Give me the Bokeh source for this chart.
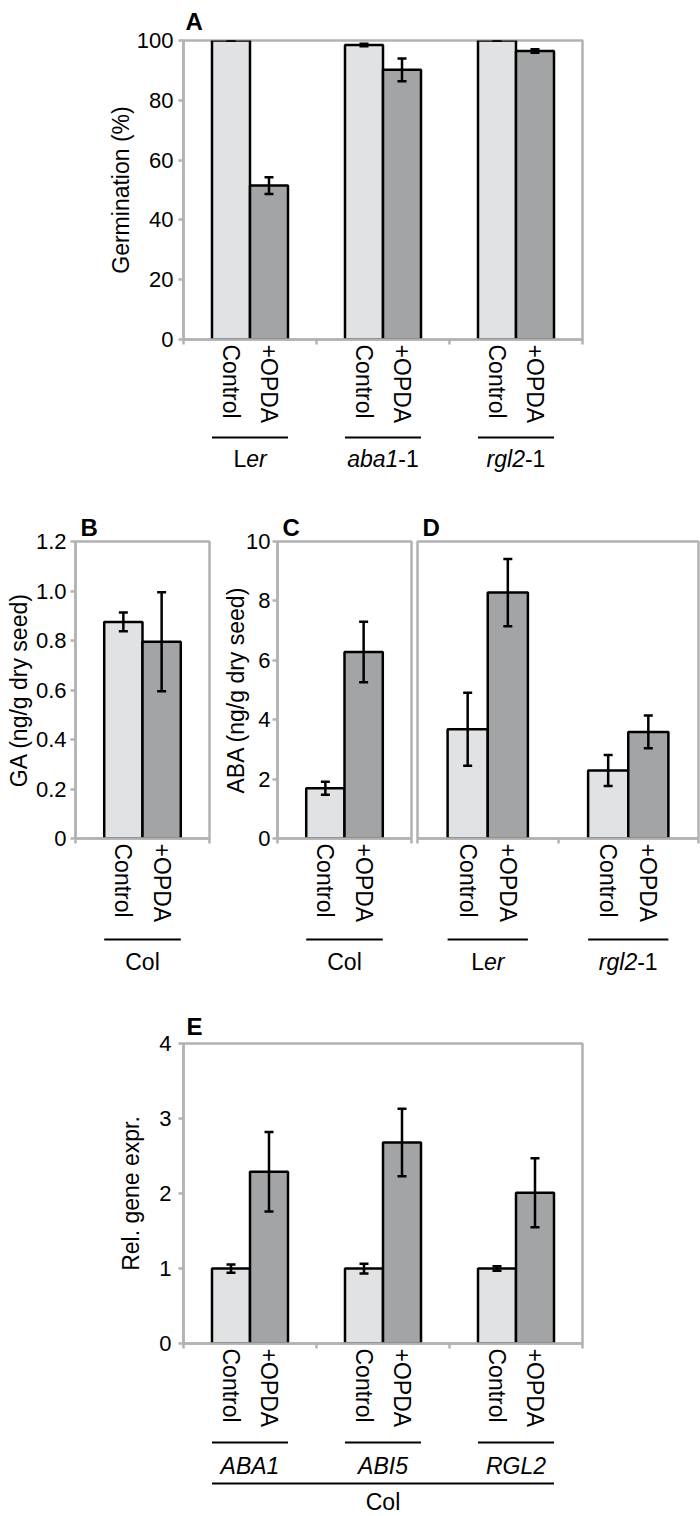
from bokeh.plotting import figure
from bokeh.models import (Range1d, LinearAxis, FixedTicker, Whisker, TeeHead,
                          Label, ColumnDataSource)
from bokeh.layouts import column, row
from bokeh.embed import file_html
from bokeh.resources import INLINE

# ---------------- data ----------------
TREATMENTS = ["Control", "+OPDA"]

A_groups = ["Ler", "aba1-1", "rgl2-1"]
A_group_parts = [[("L", "normal"), ("er", "italic")],
                 [("aba1", "italic"), ("-1", "normal")],
                 [("rgl2", "italic"), ("-1", "normal")]]
A_control = [100.0, 98.5, 100.0]
A_control_err = [0.0, 0.4, 0.0]
A_opda = [51.5, 90.2, 96.5]
A_opda_err = [2.8, 3.8, 0.6]
A_yticks = [0, 20, 40, 60, 80, 100]
A_ytick_labels = ["0", "20", "40", "60", "80", "100"]
A_ylabel = "Germination (%)"

B_groups = ["Col"]
B_group_parts = [[("Col", "normal")]]
B_control = [0.875]
B_control_err = [0.038]
B_opda = [0.795]
B_opda_err = [0.20]
B_yticks = [0, 0.2, 0.4, 0.6, 0.8, 1.0, 1.2]
B_ytick_labels = ["0", "0.2", "0.4", "0.6", "0.8", "1.0", "1.2"]
B_ylabel = "GA (ng/g dry seed)"

C_groups = ["Col"]
C_group_parts = [[("Col", "normal")]]
C_control = [1.69]
C_control_err = [0.22]
C_opda = [6.28]
C_opda_err = [1.02]
C_yticks = [0, 2, 4, 6, 8, 10]
C_ytick_labels = ["0", "2", "4", "6", "8", "10"]
C_ylabel = "ABA (ng/g dry seed)"

D_groups = ["Ler", "rgl2-1"]
D_group_parts = [[("L", "normal"), ("er", "italic")],
                 [("rgl2", "italic"), ("-1", "normal")]]
D_control = [3.68, 2.29]
D_control_err = [1.23, 0.52]
D_opda = [8.28, 3.59]
D_opda_err = [1.13, 0.55]

E_groups = ["ABA1", "ABI5", "RGL2"]
E_group_parts = [[("ABA1", "italic")], [("ABI5", "italic")], [("RGL2", "italic")]]
E_control = [1.0, 1.0, 1.0]
E_control_err = [0.055, 0.065, 0.03]
E_opda = [2.29, 2.68, 2.01]
E_opda_err = [0.53, 0.45, 0.46]
E_yticks = [0, 1, 2, 3, 4]
E_ytick_labels = ["0", "1", "2", "3", "4"]
E_ylabel = "Rel. gene expr."
E_outer_label = "Col"

# ---------------- style ----------------
FONT = "Liberation Sans"
LIGHT = "#e1e2e4"
DARK = "#a3a4a6"
FRAME = "#b2b2b2"
LW = 2.5
GP = 1.5                 # gap between groups, in bar widths
SLOT = 2 + GP            # x-units per group
TICK_FS = "22px"
LAB_FS = 23

CHAR_W = {'L': 0.556, 'e': 0.556, 'r': 0.333, 'a': 0.556, 'b': 0.556, '1': 0.556,
          '-': 0.333, 'g': 0.556, 'l': 0.222, '2': 0.556, 'A': 0.667, 'B': 0.667,
          'I': 0.278, '5': 0.556, 'R': 0.722, 'G': 0.778, 'C': 0.722, 'o': 0.556}


def text_w(t, fs):
    return sum(CHAR_W.get(ch, 0.556) for ch in t) * fs


def bar_x(g, k):
    """x of bar k (0 = Control, 1 = +OPDA) in group g"""
    return g * SLOT + GP / 2 + 0.5 + k


def group_c(g):
    return g * SLOT + SLOT / 2


def style_yaxis(ya, label_standoff):
    ya.axis_line_color = FRAME
    ya.axis_line_width = LW
    ya.major_tick_line_color = FRAME
    ya.major_tick_line_width = LW
    ya.major_tick_in = 0
    ya.major_tick_out = 5
    ya.minor_tick_line_color = None
    ya.major_label_standoff = label_standoff
    ya.major_label_text_font = FONT
    ya.major_label_text_font_size = TICK_FS
    ya.major_label_text_color = "black"
    ya.axis_label_text_font = FONT
    ya.axis_label_text_font_size = f"{LAB_FS}px"
    ya.axis_label_text_font_style = "normal"
    ya.axis_label_text_color = "black"


def make_panel(groups, ctrl, ctrl_err, opda, opda_err, ymax, width, height,
               bl, br, bt, bb, letter, letter_dx, letter_standoff,
               yticks=None, ytick_labels=None, ylabel=None,
               label_standoff=4, ylabel_standoff=0):
    n = len(groups)
    show_y = yticks is not None
    p = figure(x_range=Range1d(0, n * SLOT), y_range=Range1d(0, ymax),
               width=width, height=height,
               x_axis_location=None, y_axis_location=("left" if show_y else None),
               toolbar_location=None, output_backend="svg",
               min_border_left=bl, min_border_right=br,
               min_border_top=bt, min_border_bottom=bb)
    p.grid.visible = False
    p.outline_line_color = FRAME
    p.outline_line_width = LW
    p.background_fill_color = "white"
    p.border_fill_color = "white"

    # panel letter
    p.title.text = letter
    p.title.text_font = FONT
    p.title.text_font_size = "24px"
    p.title.text_font_style = "bold"
    p.title.text_color = "black"
    p.title.align = "left"
    p.title.offset = letter_dx
    p.title.standoff = letter_standoff

    xs, tops, errs, colors, names = [], [], [], [], []
    for g, (c, ce, o, oe) in enumerate(zip(ctrl, ctrl_err, opda, opda_err)):
        xs += [bar_x(g, 0), bar_x(g, 1)]
        tops += [c, o]
        errs += [ce, oe]
        colors += [LIGHT, DARK]
        names += TREATMENTS
    src = ColumnDataSource(dict(
        x=xs, top=tops,
        upper=[t + e for t, e in zip(tops, errs)],
        lower=[t - e for t, e in zip(tops, errs)],
        color=colors))
    p.vbar(x="x", top="top", bottom=0, width=1.0, source=src,
           fill_color="color", line_color="black", line_width=LW)
    p.add_layout(Whisker(base="x", upper="upper", lower="lower", source=src,
                         line_color="black", line_width=LW, level="annotation",
                         upper_head=TeeHead(size=9, line_color="black", line_width=LW),
                         lower_head=TeeHead(size=9, line_color="black", line_width=LW)))

    # axis with ticks at group boundaries (no labels)
    tax = LinearAxis(ticker=FixedTicker(ticks=[g * SLOT for g in range(n + 1)]),
                     axis_line_color=FRAME, axis_line_width=LW,
                     major_tick_line_color=FRAME, major_tick_line_width=LW,
                     major_tick_in=0, major_tick_out=5,
                     minor_tick_line_color=None,
                     major_label_text_font_size="0px", major_label_text_color=None,
                     major_label_standoff=4)
    p.add_layout(tax, "below")
    # axis carrying the treatment labels under each bar
    lax = LinearAxis(ticker=FixedTicker(ticks=xs),
                     major_label_overrides={x: s for x, s in zip(xs, names)},
                     axis_line_color=None, major_tick_line_color=None,
                     major_tick_in=0, major_tick_out=0, minor_tick_line_color=None,
                     major_label_orientation="vertical", major_label_standoff=0,
                     major_label_text_font=FONT, major_label_text_font_size=f"{LAB_FS}px",
                     major_label_text_color="black")
    p.add_layout(lax, "below")

    if show_y:
        ya = p.yaxis[0]
        ya.ticker = FixedTicker(ticks=yticks)
        ya.major_label_overrides = {v: s for v, s in zip(yticks, ytick_labels)}
        style_yaxis(ya, label_standoff)
        ya.axis_label = ylabel
        ya.axis_label_standoff = ylabel_standoff
    return p


def bottom_strip(p_main, width, height, bl, br):
    """label strip under a panel, sharing its x scale; y counts pixels from its top"""
    s = figure(x_range=p_main.x_range, y_range=Range1d(height, 0),
               width=width, height=height,
               x_axis_location=None, y_axis_location=None,
               toolbar_location=None, output_backend="svg",
               min_border_left=bl, min_border_right=br,
               min_border_top=0, min_border_bottom=0)
    s.grid.visible = False
    s.outline_line_color = None
    s.background_fill_color = "white"
    s.border_fill_color = "white"
    return s


def add_group_labels(s, parts_list, under_y, label_y):
    n = len(parts_list)
    s.segment(x0=[bar_x(g, 0) - 0.5 for g in range(n)], x1=[bar_x(g, 1) + 0.5 for g in range(n)],
              y0=[under_y] * n, y1=[under_y] * n, line_color="black", line_width=2)
    for g, parts in enumerate(parts_list):
        total = sum(text_w(t, LAB_FS) for t, _ in parts)
        off = -total / 2
        for t, style in parts:
            s.add_layout(Label(x=group_c(g), y=label_y, x_offset=off, text=t,
                               text_align="left", text_baseline="middle",
                               text_font=FONT, text_font_size=f"{LAB_FS}px",
                               text_font_style=style, text_color="black"))
            off += text_w(t, LAB_FS)


# ---------------- panel A ----------------
A_BL, A_BR = 183, 116
pA = make_panel(A_groups, A_control, A_control_err, A_opda, A_opda_err, 100,
                width=700, height=434, bl=A_BL, br=A_BR, bt=39, bb=95,
                letter="A", letter_dx=2, letter_standoff=11,
                yticks=A_yticks, ytick_labels=A_ytick_labels, ylabel=A_ylabel,
                label_standoff=5, ylabel_standoff=0)
sA_bot = bottom_strip(pA, 700, 71, A_BL, A_BR)
add_group_labels(sA_bot, A_group_parts, 3, 24)

# ---------------- panels B, C, D ----------------
pB = make_panel(B_groups, B_control, B_control_err, B_opda, B_opda_err, 1.2,
                width=215, height=428, bl=75, br=6, bt=36, bb=95,
                letter="B", letter_dx=5, letter_standoff=1,
                yticks=B_yticks, ytick_labels=B_ytick_labels, ylabel=B_ylabel,
                label_standoff=4, ylabel_standoff=1)
sB_bot = bottom_strip(pB, 215, 52, 75, 6)
add_group_labels(sB_bot, B_group_parts, 6, 28)

pC = make_panel(C_groups, C_control, C_control_err, C_opda, C_opda_err, 10,
                width=199, height=428, bl=62, br=3, bt=36, bb=95,
                letter="C", letter_dx=5, letter_standoff=1,
                yticks=C_yticks, ytick_labels=C_ytick_labels, ylabel=C_ylabel,
                label_standoff=2, ylabel_standoff=-6)
sC_bot = bottom_strip(pC, 199, 52, 62, 3)
add_group_labels(sC_bot, C_group_parts, 6, 28)

pD = make_panel(D_groups, D_control, D_control_err, D_opda, D_opda_err, 10,
                width=286, height=428, bl=3, br=2, bt=36, bb=95,
                letter="D", letter_dx=5, letter_standoff=1)
sD_bot = bottom_strip(pD, 286, 52, 3, 2)
add_group_labels(sD_bot, D_group_parts, 6, 28)

# ---------------- panel E ----------------
E_BL, E_BR = 175, 118
pE = make_panel(E_groups, E_control, E_control_err, E_opda, E_opda_err, 4,
                width=700, height=450, bl=E_BL, br=E_BR, bt=58, bb=92,
                letter="E", letter_dx=3, letter_standoff=8,
                yticks=E_yticks, ytick_labels=E_ytick_labels, ylabel=E_ylabel,
                label_standoff=7, ylabel_standoff=12)
sE_bot = bottom_strip(pE, 700, 80, E_BL, E_BR)
add_group_labels(sE_bot, E_group_parts, 7, 30)
nE = len(E_groups)
sE_bot.segment(x0=[bar_x(0, 0) - 0.5], x1=[bar_x(nE - 1, 1) + 0.5], y0=[48], y1=[48],
               line_color="black", line_width=2)
sE_bot.add_layout(Label(x=nE * SLOT / 2, y=66, text=E_outer_label,
                        text_align="center", text_baseline="middle",
                        text_font=FONT, text_font_size=f"{LAB_FS}px", text_color="black"))

layout = column(
    pA, sA_bot,
    row(column(pB, sB_bot), column(pC, sC_bot), column(pD, sD_bot)),
    pE, sE_bot,
)
open("out.html", "w").write(file_html(layout, INLINE))
